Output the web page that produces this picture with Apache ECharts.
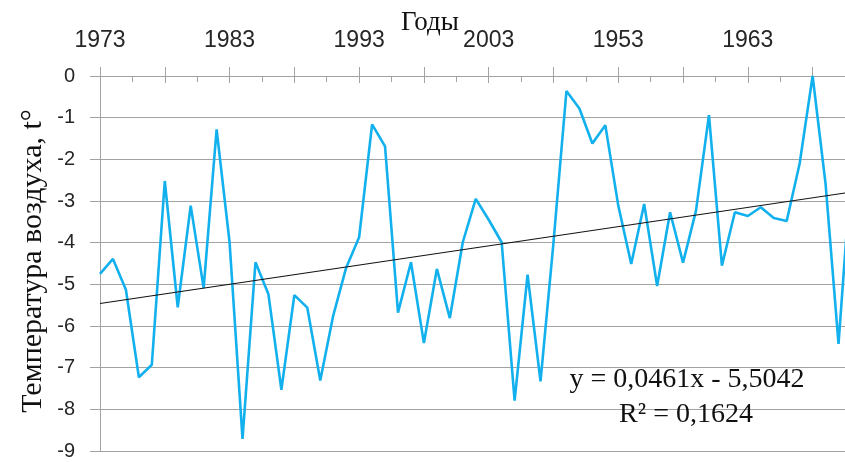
<!DOCTYPE html>
<html>
<head>
<meta charset="utf-8">
<script src="https://cdn.jsdelivr.net/npm/echarts@6/dist/echarts.min.js"></script>
<style>
  html, body { margin: 0; padding: 0; background: #fff; }
  #chart { width: 845px; height: 462px; }
</style>
</head>
<body>
<div id="chart"></div>
<script>
// Mean air temperature by year (index along the time axis)
const temps = [
  -4.75, -4.39, -5.13, -7.23, -6.93, -2.52, -5.55, -3.11, -5.09, -1.28,
  -3.99, -8.71, -4.47, -5.24, -7.53, -5.26, -5.56, -7.31, -5.75, -4.60,
  -3.87, -1.16, -1.69, -5.68, -4.47, -6.41, -4.63, -5.81, -3.99, -2.95,
  -3.45, -3.99, -7.79, -4.77, -7.33, -4.00, -0.36, -0.78, -1.62, -1.18,
  -3.11, -4.51, -3.07, -5.04, -3.27, -4.48, -3.23, -0.94, -4.55, -3.27,
  -3.36, -3.15, -3.41, -3.48, -2.10, 0.00, -2.59, -6.43, -2.15
];

// Year captions shown every 10 points along the top axis
const yearLabels = ['1973', '1983', '1993', '2003', '1953', '1963'];

// Linear trend coefficients (x counted from 1)
const trendSlope = 0.0461;
const trendIntercept = -5.5042;
const trendText = ['y = 0,0461x - 5,5042', 'R\u00B2 = 0,1624'];

const seriesData = temps.map((v, i) => [i, v]);
const xMax = 60;
const trendData = [
  [0, trendSlope * 1 + trendIntercept],
  [xMax, trendSlope * (xMax + 1) + trendIntercept]
];

const gridColor = '#a3a3a3';
const textColor = '#262626';
const sans = '"Liberation Sans", Arial, sans-serif';
const serif = '"Liberation Serif", "Times New Roman", serif';

const chart = echarts.init(document.getElementById('chart'), null, { renderer: 'canvas' });

chart.setOption({
  animation: false,
  backgroundColor: '#ffffff',
  // the plot runs past the right edge of the canvas
  grid: { left: 100, top: 76, width: 777.4, height: 375, outerBoundsMode: 'none', containLabel: false },
  xAxis: [
    {
      type: 'value',
      position: 'top',
      min: 0,
      max: xMax,
      interval: 5,
      axisLine: { show: true, lineStyle: { color: gridColor, width: 1 } },
      axisTick: { show: true, inside: true, length: 7, lineStyle: { color: gridColor } },
      minorTick: { show: true, splitNumber: 2, length: 6, lineStyle: { color: gridColor } },
      splitLine: { show: false },
      axisLabel: {
        show: true,
        margin: 24,
        fontFamily: sans,
        fontSize: 23,
        color: textColor,
        formatter: function (v) {
          return (v % 10 === 0 && yearLabels[v / 10]) || '';
        }
      }
    },
    {
      // upper half of the crossing major ticks
      type: 'value',
      position: 'bottom',
      offset: -375,
      min: 0,
      max: xMax,
      interval: 5,
      axisLine: { show: false },
      axisTick: { show: true, inside: true, length: 9, lineStyle: { color: gridColor } },
      splitLine: { show: false },
      axisLabel: { show: false }
    }
  ],
  yAxis: {
    type: 'value',
    min: -9,
    max: 0,
    interval: 1,
    axisLine: { show: true, lineStyle: { color: gridColor, width: 1 } },
    axisTick: { show: true, inside: false, length: 10, lineStyle: { color: gridColor } },
    splitLine: { show: true, lineStyle: { color: gridColor, width: 1 } },
    axisLabel: {
      margin: 25,
      fontFamily: sans,
      fontSize: 20,
      color: textColor
    }
  },
  series: [
    {
      type: 'line',
      name: 'Температура',
      data: seriesData,
      xAxisIndex: 0,
      showSymbol: false,
      symbol: 'none',
      smooth: false,
      clip: true,
      lineStyle: { color: '#12b1ee', width: 2.6 },
      z: 3
    },
    {
      type: 'line',
      name: 'Тренд',
      data: trendData,
      xAxisIndex: 0,
      showSymbol: false,
      symbol: 'none',
      clip: true,
      lineStyle: { color: '#111', width: 1.1 },
      z: 4
    }
  ],
  graphic: [
    {
      type: 'text',
      x: 430,
      y: 23,
      style: {
        text: 'Годы',
        font: '27px ' + serif,
        fill: '#111',
        textAlign: 'center',
        textVerticalAlign: 'middle'
      }
    },
    {
      type: 'text',
      x: 33,
      y: 261,
      rotation: Math.PI / 2,
      style: {
        text: 'Температура воздуха, t°',
        font: '30px ' + serif,
        fill: '#111',
        textAlign: 'center',
        textVerticalAlign: 'middle'
      }
    },
    {
      type: 'text',
      x: 687,
      y: 380,
      z: 10,
      style: {
        text: trendText[0],
        font: '28px ' + serif,
        fill: '#111',
        textAlign: 'center',
        textVerticalAlign: 'middle'
      }
    },
    {
      type: 'text',
      x: 686,
      y: 415,
      z: 10,
      style: {
        text: trendText[1],
        font: '28px ' + serif,
        fill: '#111',
        textAlign: 'center',
        textVerticalAlign: 'middle'
      }
    }
  ]
});
</script>
</body>
</html>
